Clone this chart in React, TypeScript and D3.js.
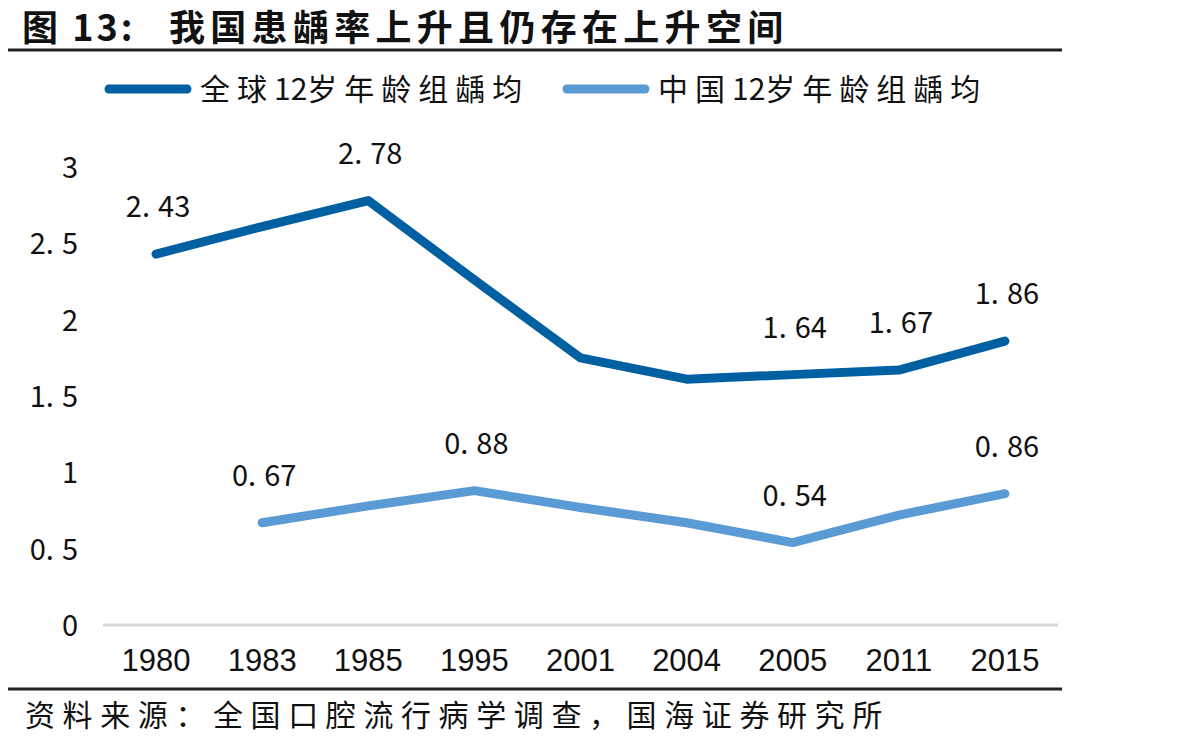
import React, { useEffect, useRef } from 'react';
import * as d3 from 'd3';

const years = ['1980', '1983', '1985', '1995', '2001', '2004', '2005', '2011', '2015'];
const globalValues: (number | null)[] = [2.43, 2.61, 2.78, 2.26, 1.75, 1.61, 1.64, 1.67, 1.86];
const chinaValues: (number | null)[] = [null, 0.67, 0.78, 0.88, 0.77, 0.67, 0.54, 0.72, 0.86];
const globalLabelled = [0, 2, 6, 7, 8];
const chinaLabelled = [1, 3, 6, 8];
const yTicks = [0, 0.5, 1, 1.5, 2, 2.5, 3];

const titleNo = '图 13:';
const title = '我国患龋率上升且仍存在上升空间';
const source = '资料来源：全国口腔流行病学调查，国海证券研究所';
const globalName = ['全球', '12', '岁年龄组龋均'];
const chinaName = ['中国', '12', '岁年龄组龋均'];

const DARK = '#0060A2';
const LIGHT = '#5B9BD5';
const CJK = '"Noto Sans CJK SC", sans-serif';

const App: React.FC = () => {
  const svgRef = useRef<SVGSVGElement>(null);

  useEffect(() => {
    if (!svgRef.current) return;
    const svg = d3.select(svgRef.current);
    svg.selectAll('*').remove();

    const left = 103, right = 1058, top = 167, bottom = 625;

    const x = d3.scaleBand().domain(years).range([left, right]);
    const y = d3.scaleLinear().domain([0, 3]).range([bottom, top]);
    const cx = (d: string) => (x(d) || 0) + x.bandwidth() / 2;

    // title + rules
    const tt = svg.append('text')
      .attr('y', 41)
      .style('font-family', CJK).style('font-weight', 'bold')
      .style('font-size', '36px')
      .attr('fill', '#111');
    tt.append('tspan').attr('x', 22).style('letter-spacing', '3px').text(titleNo);
    tt.append('tspan').attr('x', 169).style('letter-spacing', '5.3px').text(title);

    svg.append('line')
      .attr('x1', 0).attr('x2', 1062).attr('y1', 50).attr('y2', 50)
      .attr('stroke', '#222').attr('stroke-width', 3);

    svg.append('line')
      .attr('x1', 0).attr('x2', 1062).attr('y1', 689).attr('y2', 689)
      .attr('stroke', '#222').attr('stroke-width', 3);

    svg.append('text')
      .attr('x', 25).attr('y', 726)
      .style('font-family', CJK).style('font-size', '30px')
      .style('letter-spacing', '7.6px')
      .attr('fill', '#111')
      .text(source);

    // legend
    const legendItems = [
      { name: globalName, color: DARK, x0: 109 },
      { name: chinaName, color: LIGHT, x0: 567 },
    ];
    legendItems.forEach(item => {
      svg.append('line')
        .attr('x1', item.x0).attr('x2', item.x0 + 78)
        .attr('y1', 89).attr('y2', 89)
        .attr('stroke', item.color).attr('stroke-width', 9)
        .attr('stroke-linecap', 'round');
      const t = svg.append('text')
        .attr('x', item.x0 + 91).attr('y', 100)
        .style('font-family', CJK).style('font-size', '30px')
        .attr('fill', '#111');
      item.name.forEach((part, i) => {
        t.append('tspan')
          .style('letter-spacing', i === 1 ? '0px' : '7px')
          .text(part);
      });
    });

    // x axis line
    svg.append('line')
      .attr('x1', left).attr('x2', right).attr('y1', bottom).attr('y2', bottom)
      .attr('stroke', '#D9D9D9').attr('stroke-width', 3);

    // numeric label with wide gap after the decimal point
    const numText = (g: d3.Selection<SVGGElement, unknown, null, undefined>, v: number, px: number, py: number, anchor: string) => {
      const s = String(v);
      const parts = s.split('.');
      const t = g.append('text')
        .attr('x', px).attr('y', py)
        .attr('text-anchor', anchor)
        .style('font-family', CJK).style('font-size', '29px')
        .attr('fill', '#111');
      if (parts.length === 1) {
        t.text(s);
      } else {
        t.append('tspan').text(parts[0] + '.');
        t.append('tspan').attr('dx', 8).text(parts[1]);
      }
    };

    const g = svg.append('g') as unknown as d3.Selection<SVGGElement, unknown, null, undefined>;

    // y tick labels
    yTicks.forEach(t => numText(g, t, 78, y(t) + 11, 'end'));

    // x tick labels
    years.forEach(yr => {
      svg.append('text')
        .attr('x', cx(yr)).attr('y', 671)
        .attr('text-anchor', 'middle')
        .style('font-family', '"Liberation Sans Narrow", "Liberation Sans", sans-serif')
        .style('font-size', '31px')
        .attr('fill', '#111')
        .text(yr);
    });

    const series = [
      { values: globalValues, color: DARK, labelled: globalLabelled },
      { values: chinaValues, color: LIGHT, labelled: chinaLabelled },
    ];

    const line = d3.line<number | null>()
      .defined(d => d != null)
      .x((_, i) => cx(years[i]))
      .y(d => y(d as number));

    series.forEach(s => {
      svg.append('path')
        .datum(s.values)
        .attr('fill', 'none')
        .attr('stroke', s.color)
        .attr('stroke-width', 9)
        .attr('stroke-linejoin', 'round')
        .attr('stroke-linecap', 'round')
        .attr('d', line);

      s.labelled.forEach(i => {
        const v = s.values[i];
        if (v == null) return;
        numText(g, v, cx(years[i]) + 2, y(v) - 37, 'middle');
      });
    });
  }, []);

  return <svg ref={svgRef} width={1195} height={746} style={{ display: 'block', margin: '-8px' }}></svg>;
};

export default App;
